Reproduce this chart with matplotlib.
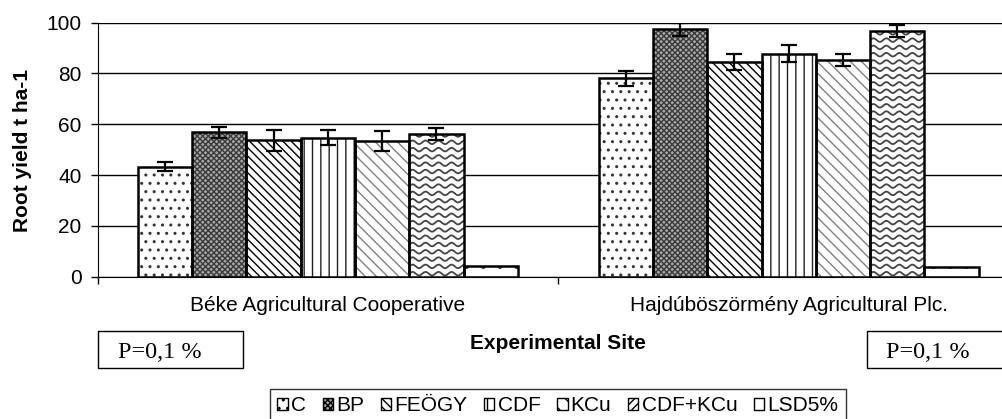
import matplotlib
matplotlib.use('Agg')
import matplotlib.pyplot as plt
import numpy as np
from matplotlib.patches import Rectangle, Patch

# ---------------- data ----------------
categories = ['Béke Agricultural Cooperative', 'Hajdúböszörmény Agricultural Plc.']
treatments = ['C', 'BP', 'FEÖGY', 'CDF', 'KCu', 'CDF+KCu', 'LSD5%']
val_C = [43.3, 78.1]
val_BP = [56.8, 97.4]
val_FEOGY = [53.7, 84.5]
val_CDF = [54.8, 87.8]
val_KCu = [53.4, 85.3]
val_CDFKCu = [56.2, 96.7]
val_LSD = [4.3, 3.9]
err_C = [1.8, 3.0]
err_BP = [2.2, 2.5]
err_FEOGY = [4.2, 3.0]
err_CDF = [2.8, 3.3]
err_KCu = [4.0, 2.3]
err_CDFKCu = [2.2, 2.5]
yticks = [0, 20, 40, 60, 80, 100]
ylabel = 'Root yield t ha-1'
xlabel = 'Experimental Site'
note = 'P=0,1 %'

values = [val_C, val_BP, val_FEOGY, val_CDF, val_KCu, val_CDFKCu, val_LSD]
errors = [err_C, err_BP, err_FEOGY, err_CDF, err_KCu, err_CDFKCu, None]

# ---------------- style ----------------
plt.rcParams['font.family'] = ['Liberation Sans', 'DejaVu Sans']
plt.rcParams['hatch.linewidth'] = 1.0
FS = 15
styles = [
    dict(face='white', hcol='#333333', hatch='..'),
    dict(face='#a8a8a8', hcol='#3a3a3a', hatch='xxxxxx'),
    dict(face='white', hcol='black', hatch='\\\\\\\\'),
    dict(face='white', hcol='#222222', hatch='||'),
    dict(face='white', hcol='#808080', hatch='\\\\\\'),
    dict(face='white', hcol='#444444', hatch=None),   # wavy, drawn below
    dict(face='white', hcol='#444444', hatch='.'),
]
legend_hatch = ['..', 'xxxxxx', '\\\\\\\\', '||', '\\\\', '////', '.']

W, H = 1003, 419
fig = plt.figure(figsize=(W / 100, H / 100), dpi=100)
ax = fig.add_axes([97.5 / W, (H - 276.7) / H, 921.6 / W, 254 / H])
ax.set_xlim(-0.5, 1.5)
ax.set_ylim(0, 100)

x = np.arange(len(categories))
bw = 0.1178
n = len(treatments)

containers = []
for i, (t, v, e, s) in enumerate(zip(treatments, values, errors, styles)):
    pos = x + (i - (n - 1) / 2) * bw
    ax.bar(pos, v, bw, color=s['face'], edgecolor=s['hcol'], hatch=s['hatch'],
           linewidth=0, zorder=2)
    c = ax.bar(pos, v, bw, fill=False, edgecolor='black', linewidth=1.8, zorder=3)
    containers.append(c)
    if e is not None:
        ax.errorbar(pos, v, yerr=e, fmt='none', ecolor='black', elinewidth=1.6,
                    capsize=6, capthick=1.6, zorder=4)

# wavy fill for CDF+KCu
to_px = ax.transData
to_data = ax.transData.inverted()
for rect in containers[5]:
    x0, y0 = rect.get_x(), rect.get_y()
    x1, y1 = x0 + rect.get_width(), y0 + rect.get_height()
    (px0, py0), (px1, py1) = to_px.transform([(x0, y0), (x1, y1)])
    xs = np.linspace(px0 - 2, px1 + 2, 200)
    yy = py0 + 3
    while yy < py1 + 4:
        ys = yy + 1.8 * np.sin(2 * np.pi * (xs - px0) / 13.0)
        pts = to_data.transform(np.column_stack([xs, ys]))
        ln, = ax.plot(pts[:, 0], pts[:, 1], color='#444444', lw=1.3, zorder=2.5)
        ln.set_clip_path(rect)
        yy += 7.3

# axes styling
ax.set_yticks(yticks)
ax.yaxis.grid(True, color='black', linewidth=1.0)
ax.set_axisbelow(True)
for sp in ['top', 'right']:
    ax.spines[sp].set_visible(False)
ax.spines['left'].set_color('black')
ax.spines['bottom'].set_color('black')
ax.tick_params(axis='y', length=5, width=1, pad=6.5, labelsize=FS, color='black')
ax.set_xticks(x)
ax.set_xticklabels(categories, fontsize=FS)
ax.set_xticks([-0.5, 0.5, 1.5], minor=True)
ax.tick_params(axis='x', which='major', length=0, pad=14)
ax.tick_params(axis='x', which='minor', length=5, width=1, color='black')

fig.text(22.5 / W, 1 - 150 / H, ylabel, rotation=90, ha='center', va='center',
         fontsize=FS, fontweight='bold')
fig.text(558 / W, 1 - 343 / H, xlabel, ha='center', va='center',
         fontsize=FS, fontweight='bold')

# P boxes
for bx, tx in [(97.7, 118), (867, 886)]:
    fig.add_artist(Rectangle((bx / W, 1 - 368 / H), 145 / W, 37.3 / H,
                             transform=fig.transFigure, fill=False,
                             edgecolor='black', linewidth=1.0))
    fig.text(tx / W, 1 - 358 / H, note, ha='left', va='baseline',
             fontsize=17.5, family=['Liberation Serif', 'DejaVu Serif'])

# legend
handles = [Patch(facecolor=s['face'], edgecolor='black', hatch=h, linewidth=1.0)
           for s, h in zip(styles, legend_hatch)]
leg = fig.legend(handles, treatments, loc='upper center', ncol=n,
                 bbox_to_anchor=(558 / W, 1 - 389 / H), fontsize=FS,
                 frameon=True, fancybox=False, edgecolor='black',
                 handlelength=0.5, handleheight=0.5, handletextpad=0.15,
                 columnspacing=0.8, borderpad=0.35, borderaxespad=0)
leg.get_frame().set_linewidth(1.0)

fig.savefig('out.png', dpi=100)
